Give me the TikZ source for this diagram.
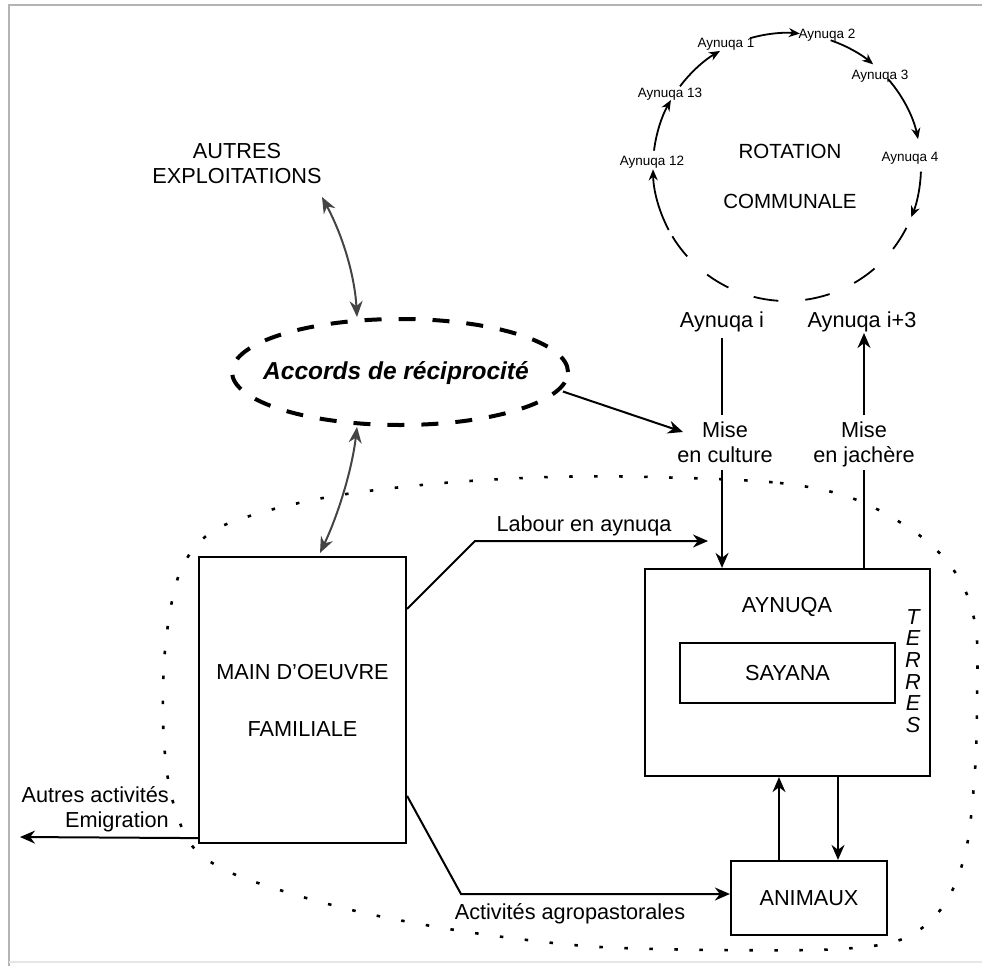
\documentclass[tikz,border=0pt]{standalone}
\usepackage{fontspec}
\setmainfont{Liberation Sans}
\usetikzlibrary{arrows.meta,calc,shapes.geometric}
\definecolor{garrow}{HTML}{444444}
\definecolor{framegray}{HTML}{B4B4B4}
\definecolor{framelight}{HTML}{E6E6E6}
\begin{document}
\begin{tikzpicture}[x=1pt,y=-1pt,
  txt/.style={font=\fontsize{21.7}{25}\selectfont, inner sep=0pt, align=center},
  small/.style={font=\fontsize{13.5}{15}\selectfont, inner sep=0pt},
  boxn/.style={draw, line width=2.2pt, inner sep=0pt, font=\fontsize{21.7}{25}\selectfont, align=center},
  conn/.style={line width=2pt},
  arr/.style={line width=2pt, -{Stealth[length=15pt,width=13pt]}},
  carr/.style={line width=1.8pt, -{Stealth[length=11pt,width=9pt]}},
  cdash/.style={line width=1.8pt, dash pattern=on 25pt off 27pt},
  garr/.style={line width=2pt, draw=garrow, {Stealth[length=16pt,width=13pt]}-{Stealth[length=16pt,width=13pt]}},
  dots/.style={line width=2.6pt, dash pattern=on 3.5pt off 21.5pt},
  ]
\useasboundingbox (0,0) rectangle (982,966);
% frame
\draw[framegray, line width=2pt] (9,966) -- (9,5) -- (982,5);
\draw[framelight, line width=1.5pt] (9,962) -- (982,962);

% rotation circle
\coordinate (C) at (787,167);
\node[font=\fontsize{20.5}{24}\selectfont, inner sep=0pt] (rot) at (790,151) {ROTATION};
\node[font=\fontsize{20.5}{24}\selectfont, inner sep=0pt] (com) at (790,201) {COMMUNALE};
\node[small] (a1) at (726,44) {Aynuqa 1};
\node[small] (a2) at (827,35) {Aynuqa 2};
\node[small] (a3) at (880,76) {Aynuqa 3};
\node[small] (a4) at (910,158) {Aynuqa 4};
\node[small] (a13) at (670,94) {Aynuqa 13};
\node[small] (a12) at (652,162) {Aynuqa 12};
\draw[carr] ($(C)+(143:134pt)$) arc[start angle=143,end angle=120,radius=134pt];
\draw[carr] ($(C)+(106:134pt)$) arc[start angle=106,end angle=84.5,radius=134pt];
\draw[carr] ($(C)+(71:134pt)$) arc[start angle=71,end angle=50,radius=134pt];
\draw[carr] ($(C)+(41:134pt)$) arc[start angle=41,end angle=12,radius=134pt];
\draw[carr] ($(C)+(-2:134pt)$) arc[start angle=-2,end angle=-22,radius=134pt];
\draw[cdash] ($(C)+(-27:134pt)$) arc[start angle=-27,end angle=-151,radius=134pt];
\draw[carr] ($(C)+(208:134pt)$) arc[start angle=208,end angle=181,radius=134pt];
\draw[carr] ($(C)+(173:134pt)$) arc[start angle=173,end angle=150,radius=134pt];

% aynuqa i / i+3
\node[txt] (ai) at (722,322) {Aynuqa i};
\node[txt] (ai3) at (862,322) {Aynuqa i+3};
\node[txt] (mc) at (725,442.5) {Mise\\en culture};
\node[txt] (mj) at (864,444.5) {Mise\\en jach\`ere};

% boxes
\node[boxn, minimum width=207pt, minimum height=286pt] (main) at (302.5,700) {MAIN D'OEUVRE\\[32pt]FAMILIALE};
\node[boxn, minimum width=285pt, minimum height=207pt] (ayn) at (787.5,672.5) {};
\node[txt] (aynt) at (787,607) {AYNUQA};
\node[boxn, minimum width=215pt, minimum height=60pt] (say) at (787.5,673) {SAYANA};
\node[font=\fontsize{21.7}{21.7}\selectfont\itshape, align=center, inner sep=0pt] (terres) at (913,671) {T\\E\\R\\R\\E\\S};
\node[boxn, minimum width=156pt, minimum height=74pt] (ani) at (809,898) {ANIMAUX};

% accords
\node[ellipse, draw, line width=4pt, dash pattern=on 17pt off 17pt, minimum width=336pt, minimum height=106pt, inner sep=0pt] (acc) at (400,372) {};
\node[font=\fontsize{24.5}{28}\selectfont\bfseries\itshape, inner sep=0pt] (acct) at (396,373) {Accords de r\'eciprocit\'e};
\node[txt] (autres) at (237,164) {AUTRES\\EXPLOITATIONS};

% dotted domain
\draw[dots] plot[smooth cycle, tension=0.55] coordinates {
 (650,477) (780,483) (857,500) (923,538) (960,580) (976,630) (977,700) (975,770)
 (966,850) (944,905) (905,938) (840,949) (720,950) (600,947) (511,938) (437,927)
 (360,912) (286,892) (225,870) (190,843) (170,790) (163,720) (166,640) (180,572)
 (210,533) (263,512) (340,495) (443,483) (550,477)};

% connectors
\coordinate (mctip) at (683,432);
\draw[arr] ([xshift=4pt]acc.-7) -- (mctip);
\draw[conn] (ai.south |- 0,338) -- (ai.south |- 0,415);
\draw[arr] (ai.south |- 0,470) -- (ai.south |- ayn.north);
\draw[conn] (mj.south |- ayn.north) -- (mj.south |- 0,470);
\draw[arr] (mj.south |- 0,415) -- (mj.south |- 0,333);

\coordinate (labtip) at (708,541);
\draw[arr] ($(main.north east)+(0,53)$) -- (475,541) -- (labtip);
\node[txt] (labt) at (584,526) {Labour en aynuqa};
\draw[arr] ($(main.north east)+(0,240)$) -- (461,894) -- (ani.west |- 0,894);
\node[txt] (agrot) at (570,914) {Activit\'es agropastorales};

\draw[arr] ([xshift=-30pt]ani.north) -- ([xshift=-30pt]ani.north |- ayn.south);
\draw[arr] ([xshift=29pt]ani.north |- ayn.south) -- ([xshift=29pt]ani.north);

\coordinate (emig) at (20,837);
\draw[arr] ($(main.south west)+(0,-6)$) -- (emig);
\node[txt, align=right, anchor=east] (emigt) at (169,809.5) {Autres activit\'es\\Emigration};

% gray double arrows
\draw[garr] (322,197) .. controls (345,240) and (355,280) .. (357,317);
\draw[garr] (357,427) .. controls (352,470) and (338,515) .. (320,553);
\end{tikzpicture}
\end{document}
